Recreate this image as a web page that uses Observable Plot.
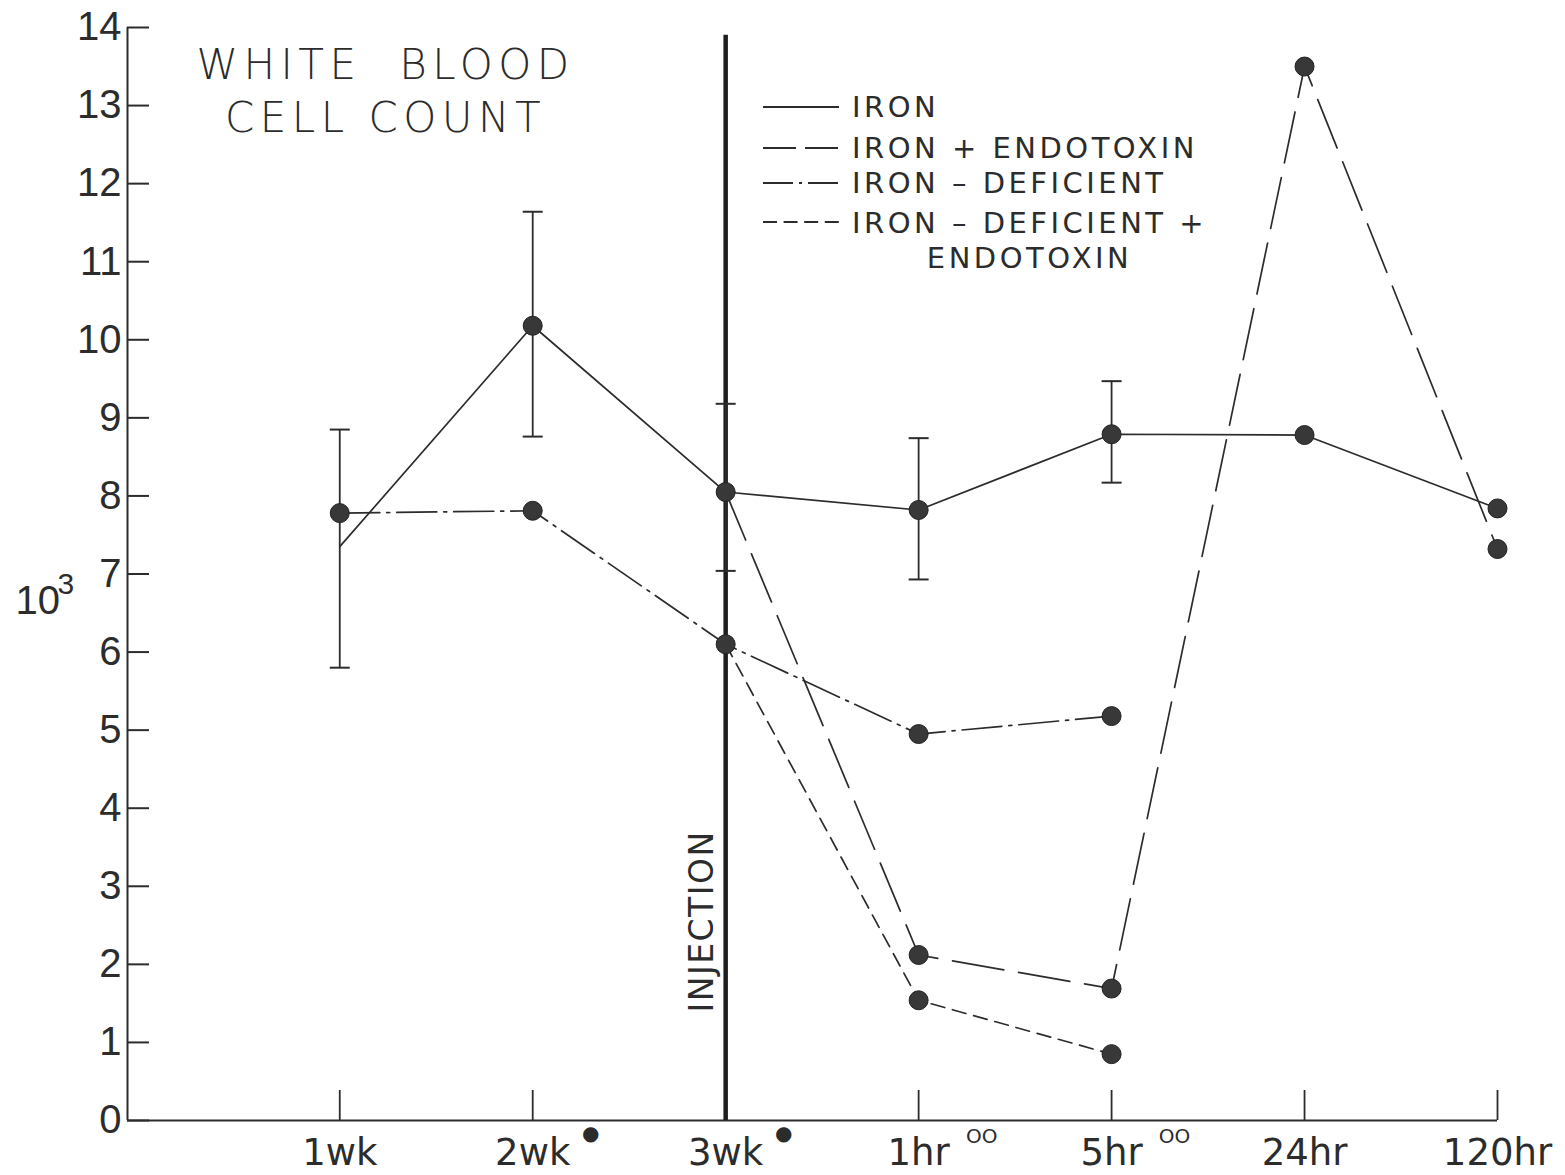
<!DOCTYPE html>
<html><head><meta charset="utf-8">
<script src="https://cdn.jsdelivr.net/npm/d3@7"></script>
<script src="https://cdn.jsdelivr.net/npm/@observablehq/plot@0.6"></script>
<style>
body{margin:0;background:#fff;}
#chart{width:1565px;height:1175px;}
</style></head><body><div id="chart"></div>
<script>
// ---- data ----
const categories = ["1wk","2wk","3wk","1hr","5hr","24hr","120hr"];
const tickMarkers = ["", "●", "●", "OO", "OO", "", ""];
const yTicks = [0,1,2,3,4,5,6,7,8,9,10,11,12,13,14];

const iron = [7.35, 10.18, 8.05, 7.82, 8.79, 8.78, 7.84];
const ironDotted = [false, true, true, true, true, true, true];
const ironLow  = [5.80, 8.76, 7.04, 6.93, 8.17, null, null];
const ironHigh = [8.85, 11.64, 9.18, 8.74, 9.47, null, null];

const ironEndotoxin = [null, null, 8.05, 2.12, 1.69, 13.5, 7.32];
const ironEndotoxinDotted = [false, false, false, true, true, true, true];

const ironDeficient = [7.78, 7.81, 6.10, 4.95, 5.18, null, null];
const ironDeficientDotted = [true, true, true, true, true, false, false];

const ironDeficientEndotoxin = [null, null, 6.10, 1.54, 0.85, null, null];
const ironDeficientEndotoxinDotted = [false, false, false, true, true, false, false];

const injectionAt = 2;      // index of "3wk"
const injectionTop = 13.9;
const injectionLabelY = 2.55;

const titleText = "WHITE  BLOOD\nCELL COUNT";
const yUnitBase = "10";
const yUnitExp = "3";
const seriesLabels = ["IRON", "IRON + ENDOTOXIN", "IRON – DEFICIENT", "IRON – DEFICIENT +", "ENDOTOXIN"];

// ---- styles ----
const ink = "#2c2c2c";
const dashes = { iron: null, ironEndo: "52,15", ironDef: "40,7,3,7", ironDefEndo: "14,8" };
const legendDashes = [null, "33,9", "30,6,3,6", "14,6.6"];
const xDomain = [-1.1, 6];
const mainFont = "DejaVu Sans";

const toRows = (vals, dotted) => vals.map((v, i) => ({i, v, dot: dotted ? dotted[i] : true})).filter(d => d.v != null);
const ironRows = toRows(iron, ironDotted);
const ieRows = toRows(ironEndotoxin, ironEndotoxinDotted);
const idRows = toRows(ironDeficient, ironDeficientDotted);
const ideRows = toRows(ironDeficientEndotoxin, ironDeficientEndotoxinDotted);
const errRows = ironLow.map((lo, i) => ({i, lo, hi: ironHigh[i]})).filter(d => d.lo != null);
const dotMarkers = tickMarkers.map((m, i) => ({i, m})).filter(d => d.m === "●");
const ringMarkers = tickMarkers.map((m, i) => ({i, m})).filter(d => d.m === "OO");

const capSymbol = {draw(ctx, size) { const r = Math.sqrt(size / Math.PI); ctx.moveTo(-r, 0); ctx.lineTo(r, 0); }};

const dotOpts = {x: "i", y: "v", r: 9.5, fill: "#383838", stroke: "#222", strokeWidth: 1, filter: d => d.dot};
const lineOpts = {x: "i", y: "v", stroke: ink, strokeWidth: 1.7};

const chart = Plot.plot({
  width: 1565, height: 1175,
  marginLeft: 127, marginRight: 68, marginTop: 27, marginBottom: 55,
  x: {domain: xDomain},
  y: {domain: [0, 14]},
  style: {background: "white", color: ink, fontFamily: mainFont},
  marks: [
    Plot.ruleY([0], {stroke: ink, strokeWidth: 2}),
    Plot.ruleX([xDomain[0]], {stroke: ink, strokeWidth: 2}),
    Plot.axisY(yTicks, {tickSize: -22, tickPadding: 28, fontSize: 40, fontFamily: "Liberation Sans", label: null,
      tickFormat: d => String(d), strokeWidth: 2, stroke: ink, fill: ink}),
    Plot.axisX(d3.range(categories.length), {tickSize: -30, tickPadding: 48, fontSize: 37, label: null,
      tickFormat: i => categories[i], strokeWidth: 1.8, stroke: ink, fill: ink}),
    Plot.text(dotMarkers, {x: "i", text: "m", frameAnchor: "bottom", dx: 58, dy: 19, fontSize: 20, fill: ink}),
    Plot.text(ringMarkers, {x: "i", text: "m", frameAnchor: "bottom", dx: 63, dy: 22, fontSize: 20, fill: ink}),
    // injection line
    Plot.ruleX([injectionAt], {y1: 0, y2: injectionTop, stroke: "#1e1e1e", strokeWidth: 4.5}),
    Plot.text([{i: injectionAt, y: injectionLabelY}], {x: "i", y: "y", text: () => "INJECTION", rotate: -90, dx: -23, fontSize: 33, fill: ink}),
    // error bars (iron)
    Plot.ruleX(errRows, {x: "i", y1: "lo", y2: "hi", stroke: ink, strokeWidth: 1.8}),
    Plot.dot(errRows, {x: "i", y: "lo", symbol: capSymbol, r: 10, stroke: ink, strokeWidth: 2, fill: "none"}),
    Plot.dot(errRows, {x: "i", y: "hi", symbol: capSymbol, r: 10, stroke: ink, strokeWidth: 2, fill: "none"}),
    // series
    Plot.line(ironRows, {...lineOpts}),
    Plot.line(ieRows, {...lineOpts, strokeDasharray: dashes.ironEndo}),
    Plot.line(idRows, {...lineOpts, strokeDasharray: dashes.ironDef}),
    Plot.line(ideRows, {...lineOpts, strokeDasharray: dashes.ironDefEndo}),
    Plot.dot(ironRows, dotOpts),
    Plot.dot(ieRows, dotOpts),
    Plot.dot(idRows, dotOpts),
    Plot.dot(ideRows, dotOpts),
    // title & y unit
    Plot.text([titleText], {frameAnchor: "top-left", dx: 258, dy: 13, lineAnchor: "top", lineHeight: 1.28,
      textAnchor: "middle", fontSize: 42, fill: ink}),
    Plot.text([yUnitBase], {frameAnchor: "left", dx: -112, dy: 27, textAnchor: "start", fontSize: 40, fontFamily: "Liberation Sans", fill: ink}),
    Plot.text([yUnitExp], {frameAnchor: "left", dx: -70, dy: 10, textAnchor: "start", fontSize: 30, fontFamily: "Liberation Sans", fill: ink})
  ]
});
document.getElementById("chart").appendChild(chart);

const svg = d3.select(chart);
svg.selectAll("text").filter(function() { return this.textContent.startsWith("WHITE"); })
  .attr("letter-spacing", 5.5).attr("font-weight", 200);
svg.selectAll("text").filter(function() { return this.textContent === "INJECTION"; })
  .attr("letter-spacing", 1.5);

// legend
const lg = svg.append("g").attr("font-family", mainFont).attr("font-size", 29).attr("fill", ink).attr("text-anchor", "start");
const rowY = [107, 148, 183, 222];
const baseY = [117, 158, 193, 233, 268];
rowY.forEach((y, k) => {
  lg.append("line").attr("x1", 763).attr("x2", 839).attr("y1", y).attr("y2", y)
    .attr("stroke", ink).attr("stroke-width", 1.8).attr("stroke-dasharray", legendDashes[k]);
});
let last;
seriesLabels.slice(0, 4).forEach((t, k) => {
  last = lg.append("text").attr("x", 852).attr("y", baseY[k]).attr("letter-spacing", 3.5).text(t);
});
const bb = last.node().getBBox();
lg.append("text").attr("x", bb.x + bb.width / 2).attr("y", baseY[4]).attr("text-anchor", "middle")
  .attr("letter-spacing", 3.5).text(seriesLabels[4]);
</script></body></html>
